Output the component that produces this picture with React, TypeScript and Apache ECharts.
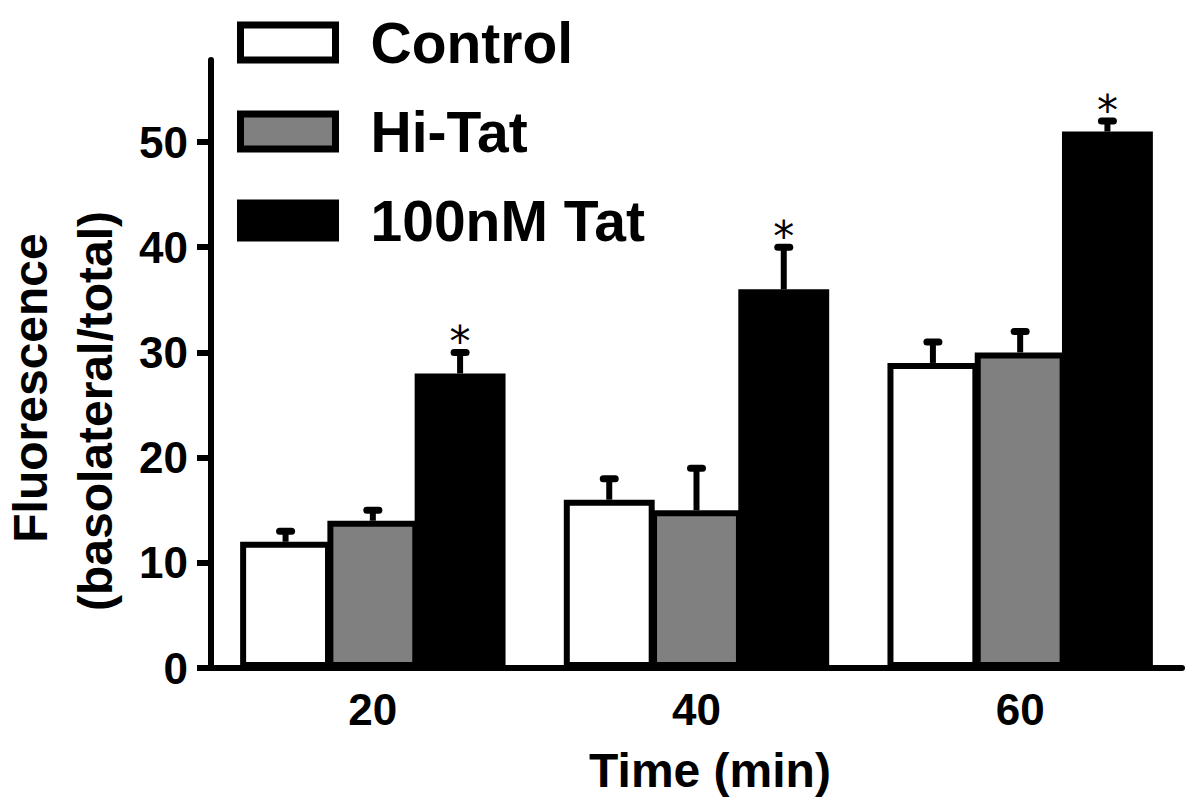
import React, { useEffect, useRef } from "react";
import * as echarts from "echarts";

const categories = ["20", "40", "60"];
const seriesNames = ["Control", "Hi-Tat", "100nM Tat"];
const controlValues = [12, 16, 29];
const controlErrors = [1, 2, 2];
const hiTatValues = [14, 15, 30];
const hiTatErrors = [1, 4, 2];
const tatValues = [28, 36, 51];
const tatErrors = [2, 4, 1];
const tatSignificance = ["*", "*", "*"];
const yTicks = [0, 10, 20, 30, 40, 50];

const FONT = '"Liberation Sans", Arial, Helvetica, sans-serif';
const CAT_GAP = 0.18;
const BAR_GAP = -0.04;

function errorSeries(idx: number, values: number[], errors: number[], marks?: string[]) {
  return {
    type: "custom",
    z: 5,
    silent: true,
    data: values.map((v, i) => [i, v, errors[i]]),
    encode: { x: 0, y: 1 },
    renderItem: (params: any, api: any) => {
      const ci = api.value(0);
      const v = api.value(1);
      const e = api.value(2);
      const base = api.coord([ci, v]);
      const top = api.coord([ci, v + e]);
      const band = api.size([1, 0])[0];
      const barW = (band * (1 - CAT_GAP)) / (3 + 2 * BAR_GAP);
      const step = barW * (1 + BAR_GAP);
      const x = base[0] + (idx - 1) * step;
      const children: any[] = [
        {
          type: "line",
          shape: { x1: x, y1: base[1], x2: x, y2: top[1] },
          style: { stroke: "#000", lineWidth: 6 },
        },
        {
          type: "line",
          shape: { x1: x - 6, y1: top[1], x2: x + 6, y2: top[1] },
          style: { stroke: "#000", lineWidth: 7, lineCap: "round" },
        },
      ];
      const mark = marks ? marks[params.dataIndex] : "";
      if (mark) {
        children.push({
          type: "text",
          x: x,
          y: top[1] - 11,
          style: {
            text: mark,
            fontSize: 42,
            fontFamily: '"DejaVu Sans", sans-serif',
            fill: "#000",
            align: "center",
            verticalAlign: "middle",
          },
        });
      }
      return { type: "group", children };
    },
  };
}

export default function App() {
  const ref = useRef<HTMLDivElement>(null);
  useEffect(() => {
    if (!ref.current) return;
    const chart = echarts.init(ref.current, null, { renderer: "svg" });
    const barBase = {
      type: "bar",
      barGap: `${BAR_GAP * 100}%`,
      barCategoryGap: `${CAT_GAP * 100}%`,
    };
    chart.setOption({
      animation: false,
      backgroundColor: "#fff",
      grid: { left: 211, right: 18, top: 60, bottom: 144 },
      legend: {
        data: seriesNames,
        orient: "vertical",
        left: 232,
        top: 9,
        icon: "rect",
        itemWidth: 95,
        itemHeight: 35,
        itemGap: 32,
        selectedMode: false,
        itemStyle: { borderColor: "#000", borderWidth: 7 },
        textStyle: {
          fontSize: 57,
          fontWeight: "bold",
          fontFamily: FONT,
          color: "#000",
          lineHeight: 57,
          padding: [0, 0, 0, 30],
        },
      },
      xAxis: {
        type: "category",
        data: categories,
        boundaryGap: true,
        name: "Time (min)",
        nameLocation: "middle",
        nameGap: 78,
        nameTextStyle: {
          fontSize: 48,
          fontWeight: "bold",
          fontFamily: FONT,
          color: "#000",
          padding: [0, 0, 0, 27],
        },
        axisLine: { lineStyle: { color: "#000", width: 6 } },
        axisTick: { alignWithLabel: true, length: 15, lineStyle: { color: "#000", width: 6 } },
        axisLabel: {
          fontSize: 44,
          fontWeight: "bold",
          fontFamily: FONT,
          color: "#000",
          margin: 19,
        },
        splitLine: { show: false },
      },
      yAxis: {
        type: "value",
        min: 0,
        max: 57.8,
        interval: 10,
        axisLine: { show: true, lineStyle: { color: "#000", width: 6 } },
        axisTick: {
          show: true,
          length: 14,
          customValues: yTicks,
          lineStyle: { color: "#000", width: 6 },
        },
        axisLabel: {
          customValues: yTicks,
          fontSize: 44,
          fontWeight: "bold",
          fontFamily: FONT,
          color: "#000",
          margin: 23,
        },
        splitLine: { show: false },
      },
      graphic: [
        {
          type: "text",
          x: 30,
          y: 388,
          rotation: Math.PI / 2,
          style: {
            text: "Fluorescence",
            fontSize: 48,
            fontWeight: "bold",
            fontFamily: FONT,
            fill: "#000",
            align: "center",
            verticalAlign: "middle",
          },
        },
        {
          type: "text",
          x: 95,
          y: 411,
          rotation: Math.PI / 2,
          style: {
            text: "(basolateral/total)",
            fontSize: 48,
            fontWeight: "bold",
            fontFamily: FONT,
            fill: "#000",
            align: "center",
            verticalAlign: "middle",
          },
        },
      ],
      series: [
        {
          ...barBase,
          name: seriesNames[0],
          data: controlValues,
          itemStyle: { color: "#ffffff", borderColor: "#000", borderWidth: 6 },
        },
        {
          ...barBase,
          name: seriesNames[1],
          data: hiTatValues,
          itemStyle: { color: "#808080", borderColor: "#000", borderWidth: 6 },
        },
        {
          ...barBase,
          name: seriesNames[2],
          data: tatValues,
          itemStyle: { color: "#000000", borderColor: "#000", borderWidth: 6 },
        },
        errorSeries(0, controlValues, controlErrors),
        errorSeries(1, hiTatValues, hiTatErrors),
        errorSeries(2, tatValues, tatErrors, tatSignificance),
      ],
    });
    return () => chart.dispose();
  }, []);
  return (
    <div
      ref={ref}
      style={{ position: "fixed", left: 0, top: 0, width: 1200, height: 812, background: "#fff" }}
    />
  );
}
